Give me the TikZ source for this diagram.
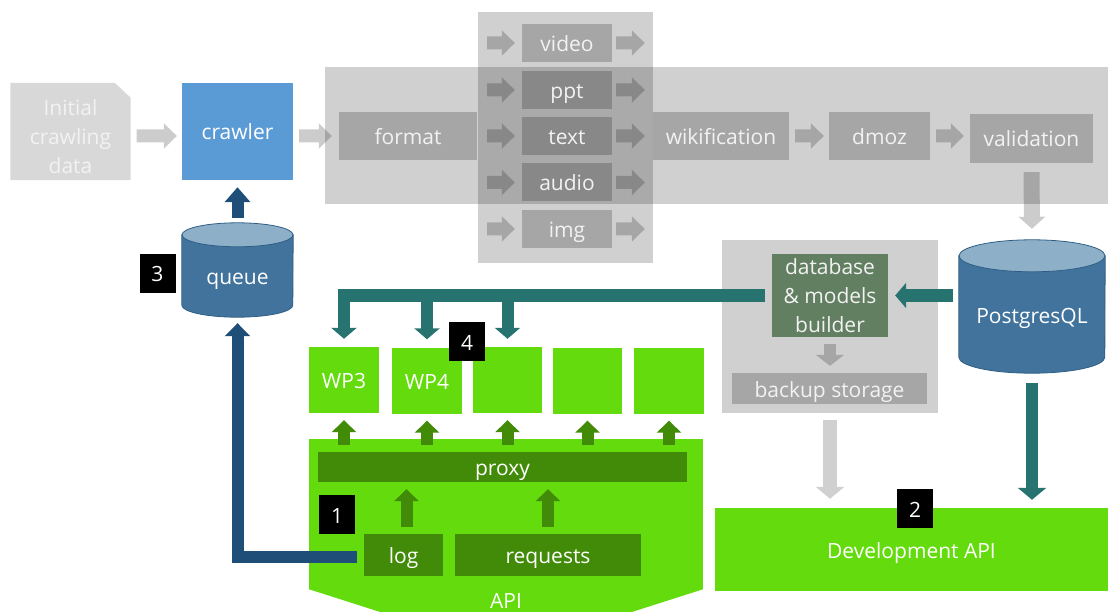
\documentclass[tikz,border=0pt]{standalone}
\usepackage{fontspec}
\setmainfont{Open Sans}
\usetikzlibrary{arrows.meta,backgrounds,calc}
\definecolor{docgray}{HTML}{D8D8D8}
\definecolor{crawlblue}{HTML}{5B9BD5}
\definecolor{cylbody}{HTML}{41739C}
\definecolor{cyltop}{HTML}{8EAFC8}
\definecolor{cylline}{HTML}{2E5E85}
\definecolor{darkblue}{HTML}{1F4E79}
\definecolor{tealc}{HTML}{26736F}
\definecolor{dbgreen}{HTML}{627F62}
\definecolor{lime}{HTML}{63DB0C}
\definecolor{dkgreen}{HTML}{418B08}
\definecolor{lgray}{HTML}{D0D0D0}
\definecolor{mgray}{HTML}{A6A6A6}
\definecolor{txt}{HTML}{F2F2F2}
\newcommand\drawcyl[3]{%
  \filldraw[fill=cylbody, draw=cylline, line width=0.8pt]
    ([yshift=-#3pt]#1.north west) -- ([yshift=#3pt]#1.south west)
    arc[start angle=180, end angle=360, x radius=#2pt, y radius=#3pt]
    -- ([yshift=-#3pt]#1.north east) -- cycle;
  \filldraw[fill=cyltop, draw=cylline, line width=0.8pt]
    ([yshift=-#3pt]#1.north) ellipse [x radius=#2pt, y radius=#3pt];
}
\tikzset{
  every node/.style={font=\fontsize{21}{29}\selectfont, inner sep=0pt, text=white},
  wh/.style 2 args={minimum width=#1pt, minimum height=#2pt},
  tb/.style={text height=18pt, text depth=1pt},
  band/.style={fill=black, fill opacity=0.185},
  pbox/.style={fill=black, fill opacity=0.2, text opacity=1, text=txt, tb},
  crawlbox/.style={fill=crawlblue, tb},
  cylnode/.style={text height=#1, text depth=0pt},
  wpbox/.style={fill=lime, tb},
  dgbox/.style={fill=dkgreen, tb},
  numbox/.style={fill=black, wh={36}{39}, tb},
  garrow/.style={draw=black, line width=13pt, -{Triangle[length=13pt,width=25pt]}},
  bluearrow/.style={draw=darkblue, line width=12pt, line join=miter, -{Triangle[length=13pt,width=25pt]}},
  tealarrow/.style={draw=tealc, line width=12pt, line join=miter, -{Triangle[length=11pt,width=25pt]}},
  greenarrow/.style={draw=dkgreen, line width=12pt, -{Triangle[length=12pt,width=24pt]}},
}
\begin{document}
\begin{tikzpicture}[x=1pt,y=-1pt]
\useasboundingbox (0,0) rectangle (1108,612);
\clip (0,0) rectangle (1108,612);

% pipeline panels
\fill[band] (325,67) rectangle (1108,204);
\fill[band] (478,12) rectangle (653,263);

% top row
\node[wh={120}{97}, align=center, text=txt] (init) at (70.5,131.5) {\rule{0pt}{26pt}Initial\\crawling\\data};
\begin{scope}[on background layer]
\fill[docgray] (init.south west) -- (init.north west) -- ([xshift=-16pt]init.north east)
  -- ([yshift=-15pt]init.north east) -- (init.south east) -- cycle;
\end{scope}
\node[crawlbox, wh={111}{97}] (crawler) at (237.5,131.5) {crawler};
\node[pbox, wh={138}{48}] (fmt) at (408,136) {format};
\node[pbox, wh={90}{38}] (fvideo) at (567,43) {video};
\node[pbox, wh={90}{38}] (fppt) at (567,90) {ppt};
\node[pbox, wh={90}{38}] (ftext) at (567,136) {text};
\node[pbox, wh={90}{38}] (faudio) at (567,182.5) {audio};
\node[pbox, wh={90}{38}] (fimg) at (567,229) {img};
\node[pbox, wh={136}{48}] (wiki) at (721,136) {wikification};
\node[pbox, wh={101}{48}] (dmoz) at (879.5,136) {dmoz};
\node[pbox, wh={123}{49}] (valid) at (1031.5,138.5) {validation};

% storage
\node[cylnode=28pt, wh={111}{94}] (queue) at (237.5,270) {queue};
\node[cylnode=34pt, wh={146}{133}] (pg) at (1032,306.5) {PostgresQL};
\begin{scope}[on background layer]
\drawcyl{queue}{55.5}{12}
\drawcyl{pg}{73}{16}
\end{scope}
\node[fill=lgray, wh={216}{173}] (store) at (830,326.5) {};
\node[fill=dbgreen, wh={116}{83}, align=center, text=txt] (dbb) at (830,295.5) {database\\\& models\\builder};
\node[fill=mgray, wh={195}{31}, tb, text=txt] (backup) at (829.5,388.5) {backup storage};

% API
\node[fill=lime, wh={394}{150}] (api) at (506,514) {};
\fill[lime] (api.south west) -- (api.south east) -- ([yshift=-63pt]api.south) -- cycle;
\node[text height=15pt, text depth=0pt] (apitext) at (506,601) {API};
\node[dgbox, wh={369}{30}] (proxy) at (502.5,467) {proxy};
\node[dgbox, wh={79}{42}] (log) at (403.5,555) {log};
\node[dgbox, wh={186}{42}] (req) at (548,555) {requests};
\node[wpbox, wh={70}{66}] (wp3) at (344,380) {WP3};
\node[wpbox, wh={70}{66}] (wp4) at (427,380.5) {WP4};
\node[wpbox, wh={69}{66}] (wp5) at (507.5,380) {};
\node[wpbox, wh={69}{66}] (wp6) at (587.5,380.5) {};
\node[wpbox, wh={70}{66}] (wp7) at (669,380.5) {};
\node[fill=lime, wh={393}{83}, tb] (dev) at (911.5,549.5) {Development API};

% green arrows
\foreach \w in {wp3,wp4,wp5,wp6,wp7}
  \draw[greenarrow] ([yshift=7pt]proxy.north -| \w.south) -- ([yshift=-7pt]\w.south);
\draw[greenarrow] ([xshift=3pt,yshift=7pt]log.north) -- ([xshift=3pt,yshift=-7pt]log.north |- proxy.south);
\draw[greenarrow] ([yshift=7pt]req.north) -- ([yshift=-7pt]req.north |- proxy.south);

% teal arrows
\draw[tealarrow] ([xshift=-7pt]dbb.west) -| ([yshift=8pt]wp3.north);
\draw[tealarrow] (dbb.west -| wp4.north) -- ([yshift=8pt]wp4.north);
\draw[tealarrow] (dbb.west -| wp5.north) -- ([yshift=8pt]wp5.north);
\draw[tealarrow] ([xshift=-6pt]pg.west |- dbb.west) -- ([xshift=7pt]dbb.east);
\draw[tealarrow, -{Triangle[length=12pt,width=28pt]}, shorten <=10pt, shorten >=8pt] (pg.south) -- (pg.south |- dev.north);

% blue arrows
\draw[bluearrow] ([xshift=-7pt,yshift=-2pt]log.west) -| ([yshift=-6pt]queue.south);
\draw[bluearrow, -{Triangle[length=15pt,width=25pt]}] ([yshift=5pt]queue.north) -- ([yshift=-7pt]crawler.south);

% opaque gray arrows
\draw[draw=mgray, line width=12pt, -{Triangle[length=11pt,width=28pt]}, shorten <=7pt, shorten >=7pt] (dbb.south) -- (dbb.south |- backup.north);
\draw[draw=lgray, line width=14pt, -{Triangle[length=12pt,width=28pt]}, shorten <=7pt, shorten >=9pt] (store.south) -- (store.south |- dev.north);

% translucent pipeline arrows
\begin{scope}[transparency group, opacity=0.2]
\draw[garrow, shorten <=6pt, shorten >=5pt] (init.east |- fmt.west) -- (crawler.west |- fmt.west);
\draw[garrow, shorten <=6pt, shorten >=7pt] (crawler.east |- fmt.west) -- (fmt.west);
\foreach \n in {fvideo,fppt,ftext,faudio,fimg} {
  \draw[garrow, shorten <=10pt, shorten >=7pt] (fmt.east |- \n.west) -- (\n.west);
  \draw[garrow, shorten <=4pt, shorten >=8pt] (\n.east) -- (wiki.west |- \n.east);
}
\draw[garrow, shorten <=6pt, shorten >=5pt] (wiki.east) -- (dmoz.west);
\draw[garrow, shorten <=6pt, shorten >=6pt] (dmoz.east) -- (valid.west |- dmoz.east);
\draw[draw=black, line width=16pt, -{Triangle[length=12pt,width=26pt]}, shorten <=9pt, shorten >=11pt] (valid.south) -- (pg.north);
\end{scope}

% number labels
\node[numbox] (n1) at (337,514.5) {1};
\node[numbox] (n2) at (915,508.5) {2};
\node[numbox] (n3) at (157.5,273.5) {3};
\node[numbox] (n4) at (467,341.5) {4};
\end{tikzpicture}
\end{document}
